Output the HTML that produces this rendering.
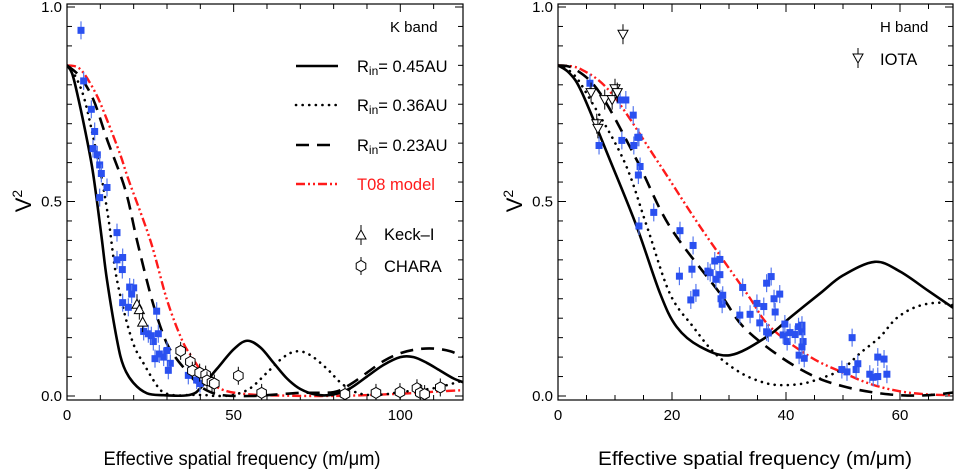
<!DOCTYPE html>
<html><head><meta charset="utf-8"><style>
html,body{margin:0;padding:0;background:#fff;}
svg{display:block;font-family:"Liberation Sans",Arial,sans-serif;}
</style></head><body>
<svg id="fig" width="955" height="471" viewBox="0 0 955 471" xmlns="http://www.w3.org/2000/svg"></svg>
<script>
// ---------- K band data ----------
const kSolidX=[0,1.5,3,5.5,7.5,9,10.5,12,15,17,20,24,29,35,38,40,45,50,54,58,62,66,70,75,80,85,90,95,100,104,108,112,116,119];
const kSolidY=[0.85,0.83,0.78,0.68,0.59,0.5,0.4,0.298,0.144,0.076,0.033,0.007,0.002,0.001,0.006,0.02,0.07,0.12,0.142,0.125,0.085,0.045,0.018,0.003,0.004,0.02,0.05,0.08,0.1,0.1,0.085,0.065,0.045,0.035];
const kDotX=[0,2,5,8,10.5,12.5,15,19.5,23.5,26.5,28.5,32,38,42,45,50,55,60,65,69,73,78,82,86,90,95,100,110,119];
const kDotY=[0.85,0.83,0.77,0.66,0.555,0.452,0.298,0.144,0.076,0.033,0.012,0.002,0.003,0.002,0,0.003,0.02,0.06,0.1,0.115,0.105,0.07,0.035,0.012,0.003,0.004,0.01,0.02,0.04];
const kDashX=[0,4,8,12,17.5,21,25.5,29.5,32.5,36.5,40,44,48,55,60,70,80,85,90,95,100,105,110,115,119];
const kDashY=[0.85,0.82,0.76,0.66,0.53,0.4,0.247,0.144,0.1,0.058,0.025,0.007,0.001,0,0.002,0.008,0.01,0.03,0.06,0.09,0.11,0.12,0.122,0.115,0.1];
const kRedX=[0,4,8.5,12,16,18.5,25,30,34.5,37.5,42,47,55,65,75,85,95,105,112,119];
const kRedY=[0.85,0.84,0.78,0.71,0.62,0.555,0.4,0.247,0.144,0.1,0.045,0.015,0.004,0.001,0,0.001,0.004,0.008,0.012,0.015];
const kBlueX=[4.2,5.0,7.3,8.3,7.8,9.1,9.8,10.3,9.8,12,15,15,16.7,16.6,18.8,20,16.7,19.4,18.4,24.4,25.9,27.4,26.9,26.4,29,31,30.4,30,36.4,38.9,39.9,23,25.3,27.7];
const kBlueY=[0.94,0.81,0.737,0.68,0.636,0.62,0.594,0.572,0.51,0.536,0.42,0.35,0.356,0.325,0.28,0.278,0.24,0.262,0.228,0.16,0.14,0.16,0.218,0.096,0.1,0.084,0.066,0.117,0.053,0.041,0.032,0.166,0.155,0.108];
const kKeckX=[21,21.7,22.7];
const kKeckY=[0.236,0.222,0.19];
const kCharaX=[34.1,37,37.6,39.8,41.6,42,43.5,44.2,51.4,58.4,83.4,92.7,99.9,105,106,107.3,112];
const kCharaY=[0.116,0.088,0.065,0.06,0.055,0.04,0.035,0.032,0.052,0.008,0.005,0.008,0.01,0.02,0.008,0.005,0.022];
// ---------- H band data ----------
const hSolidX=[0,2,4.2,9.1,13.8,17.9,20.8,24.9,30.2,36.6,41,46,50,55.6,60,65,70];
const hSolidY=[0.85,0.83,0.78,0.607,0.436,0.264,0.178,0.127,0.105,0.152,0.205,0.264,0.31,0.345,0.32,0.27,0.22];
const hDotX=[0,2.5,5,11.5,15.6,19.6,23.7,27.5,32,36,39,43,47,50,53,56.5,59.4,63,67,70];
const hDotY=[0.85,0.83,0.778,0.607,0.436,0.264,0.178,0.11,0.06,0.035,0.028,0.032,0.05,0.07,0.11,0.152,0.2,0.23,0.24,0.23];
const hDashX=[0,3,7.4,13.8,19.6,28.4,32.5,39,45,50,55,60,65,70];
const hDashY=[0.85,0.84,0.778,0.607,0.436,0.264,0.178,0.101,0.05,0.025,0.01,0.002,0.002,0.01];
const hRedX=[0,4,9.4,17.3,24.9,33.1,37.2,44.2,50,55,60,65,70];
const hRedY=[0.85,0.84,0.778,0.607,0.436,0.264,0.178,0.101,0.06,0.03,0.012,0.004,0.002];
const hBlueX=[5.6,7.2,10.9,11.9,13.2,11.2,13.3,14,14.2,14.4,14.1,14.2,16.8,21.4,21.3,23.7,23.5,23.3,24.2,26.3,26.7,27.5,28.4,27.7,28.4,28.6,28.8,28.9,31.9,32.4,33.7,34.9,35.4,36.1,36.6,37.4,36.6,36.9,37.9,38.1,38.9,39.5,39.8,40.2,40.7,41.6,42.2,42.8,42.8,43,42.3,43.2,42.8,49.8,50.7,51.6,52.3,52.6,54.7,55.3,56.1,56.1,57.2,57.7];
const hBlueY=[0.804,0.644,0.761,0.761,0.722,0.657,0.644,0.665,0.665,0.59,0.568,0.437,0.472,0.425,0.308,0.387,0.326,0.247,0.265,0.321,0.317,0.347,0.351,0.3,0.312,0.25,0.236,0.259,0.208,0.279,0.21,0.238,0.188,0.23,0.29,0.307,0.165,0.162,0.25,0.216,0.262,0.157,0.185,0.14,0.163,0.158,0.178,0.182,0.165,0.14,0.105,0.097,0.126,0.068,0.062,0.15,0.068,0.083,0.056,0.048,0.05,0.1,0.095,0.056];
const hIotaX=[11.4,5.8,6.8,7.0,8.2,9.5,10,10.4];
const hIotaY=[0.93,0.78,0.7,0.688,0.762,0.762,0.79,0.78];

const NS="http://www.w3.org/2000/svg";
const svg=document.getElementById('fig');
function mk(tag,attrs,parent){const e=document.createElementNS(NS,tag);for(const k in attrs)e.setAttribute(k,attrs[k]);(parent||svg).appendChild(e);return e;}

function panel(cfg){
  const g=mk('g',{});
  
  
  const L=cfg.left,R=cfg.right,T=4,B=400;
  const sx=v=>cfg.x0px+v*cfg.pxPerUnit;
  const sy=v=>396-v*389;
  const cid='clip-'+cfg.name;
  const cp=mk('clipPath',{id:cid},g);mk('rect',{x:L,y:T,width:R-L,height:B-T},cp);
  const tk=mk('g',{stroke:'#000','stroke-width':1},g);
  
  
  for(let i=0;i<=20;i++){const v=i*0.05,y=sy(v),len=(i%10==0)?8:5;
    mk('line',{x1:L,y1:y,x2:L+len,y2:y},tk);mk('line',{x1:R,y1:y,x2:R-len,y2:y},tk);}
  for(let v=0;v<=cfg.xmax+0.01;v+=cfg.minor){const x=sx(v);if(x>R+0.5)break;const maj=Math.abs(v/cfg.major-Math.round(v/cfg.major))<1e-6;const len=maj?8:5;
    mk('line',{x1:x,y1:B,x2:x,y2:B-len},tk);mk('line',{x1:x,y1:T,x2:x,y2:T+len},tk);}
  mk('rect',{x:L,y:T,width:R-L,height:B-T,fill:'none',stroke:'#000','stroke-width':1.2},g);
  ['0.0','0.5','1.0'].forEach((s,i)=>{const t=mk('text',{x:L-5,y:sy(i*0.5)+5,'text-anchor':'end','font-size':15},g);t.textContent=s;
    });
  cfg.xticks.forEach(v=>{const t=mk('text',{x:sx(v),y:420,'text-anchor':'middle','font-size':15},g);t.textContent=String(v);
    });
  const yl=mk('text',{x:0,y:0,transform:`translate(${L-36},201) rotate(-90)`,'text-anchor':'middle','font-size':22},g);
  yl.innerHTML='V<tspan dy="-9" font-size="14">2</tspan>';
  
  const xl=mk('text',{x:cfg.titleX,y:465,'text-anchor':'middle','font-size':19,textLength:cfg.titleW,lengthAdjust:'spacingAndGlyphs'},g);
  xl.textContent=cfg.title;

  const plot=mk('g',{'clip-path':`url(#${cid})`},g);
  function curve(xs,ys,style,name){
    const p=xs.map((x,i)=>[sx(x),sy(ys[i])]);
    let d=`M${p[0][0]},${p[0][1]}`;
    for(let i=0;i<p.length-1;i++){const p0=p[i-1]||p[i],p1=p[i],p2=p[i+1],p3=p[i+2]||p2;
      d+=` C${p1[0]+(p2[0]-p0[0])/6},${p1[1]+(p2[1]-p0[1])/6} ${p2[0]-(p3[0]-p1[0])/6},${p2[1]-(p3[1]-p1[1])/6} ${p2[0]},${p2[1]}`;}
    const e=mk('path',Object.assign({d:d,fill:'none'},style),plot);
    
  }
  function blue(xs,ys,name){xs.forEach((x,i)=>{const X=sx(x),Y=sy(ys[i]);
    const e=mk('line',{x1:X,y1:Y-9,x2:X,y2:Y+9,stroke:'#5577ee','stroke-width':1.2},plot);
    
    const r=mk('rect',{x:X-3.5,y:Y-3.5,width:7,height:7,fill:'#2a50f0'},plot);
    });}
  cfg.draw({curve,blue,sx,sy,plot,g});
  return {sx,sy,g,plot};
}
const solid={stroke:'#000','stroke-width':2.6};
const dot={stroke:'#000','stroke-width':2.6,'stroke-dasharray':'0.1 6.5','stroke-linecap':'round'};
const dash={stroke:'#000','stroke-width':2.6,'stroke-dasharray':'13 8'};
const red={stroke:'#ff1a1a','stroke-width':2.4,'stroke-dasharray':'9 3 2 3 2 3'};
function hexagon(parent,X,Y,name){
  const l=mk('line',{x1:X,y1:Y-9,x2:X,y2:Y+9,stroke:'#000','stroke-width':1},parent);
  
  let pts=[];for(let k=0;k<6;k++){const a=Math.PI/6+k*Math.PI/3;pts.push((X+5.5*Math.cos(a)).toFixed(1)+','+(Y+5.5*Math.sin(a)).toFixed(1));}
  const h=mk('polygon',{points:pts.join(' '),fill:'#fff',stroke:'#000','stroke-width':1},parent);
  
}
function tri(parent,X,Y,down,name){
  const l=mk('line',{x1:X,y1:Y-10,x2:X,y2:Y+10,stroke:'#000','stroke-width':1},parent);
  
  const s=down?1:-1;
  const p=mk('polygon',{points:`${X-5},${Y-s*4} ${X+5},${Y-s*4} ${X},${Y+s*5}`,fill:'#fff',stroke:'#000','stroke-width':1},parent);
  
}

panel({name:'k-band-panel',left:67,right:463,x0px:67,pxPerUnit:3.333,xmax:120,minor:10,major:50,xticks:[0,50,100],
  title:'Effective spatial frequency  (m/\u03bcm)',titleX:242,titleW:277,
  draw:({curve,blue,sx,sy,plot,g})=>{
    curve(kRedX,kRedY,red,'t08-model-curve');
    curve(kDashX,kDashY,dash,'rin-023-curve');
    curve(kDotX,kDotY,dot,'rin-036-curve');
    curve(kSolidX,kSolidY,solid,'rin-045-curve');
    blue(kBlueX,kBlueY,'k-band-data');
    kKeckX.forEach((x,i)=>tri(plot,sx(x),sy(kKeckY[i]),false,'keck-point'));
    kCharaX.forEach((x,i)=>hexagon(plot,sx(x),sy(kCharaY[i]),'chara-point'));
    const lg=mk('g',{},g);
    const t0=mk('text',{x:390,y:32,'font-size':15},lg);t0.textContent='K band';
    [[solid,'0.45AU',66],[dot,'0.36AU',105],[dash,'0.23AU',145]].forEach(([st,lab,y])=>{
      const ln=mk('line',Object.assign({x1:296,y1:y,x2:338,y2:y},st),lg);
      
      const t=mk('text',{x:357,y:y+6,'font-size':16.5},lg);
      t.innerHTML=`R<tspan font-size="12" dy="3">in</tspan><tspan dy="-3">= ${lab}</tspan>`;
      });
    mk('line',Object.assign({x1:296,y1:184,x2:338,y2:184},red),lg);
    const tr=mk('text',{x:357,y:190,'font-size':16.5,fill:'#ff1a1a'},lg);tr.textContent='T08 model';
    tri(lg,361,235,false,'legend-keck-symbol');
    const tk=mk('text',{x:384,y:240,'font-size':16.5},lg);tk.textContent='Keck\u2013I';
    hexagon(lg,361,266,'legend-chara-symbol');
    const tc=mk('text',{x:384,y:272,'font-size':16.5},lg);tc.textContent='CHARA';
  }});

panel({name:'h-band-panel',left:558,right:953,x0px:558,pxPerUnit:5.7,xmax:70,minor:5,major:20,xticks:[0,20,40,60],
  title:'Effective spatial frequency (m/\u03bcm)',titleX:755,titleW:314,
  draw:({curve,blue,sx,sy,plot,g})=>{
    curve(hRedX,hRedY,red,'t08-model-curve');
    curve(hDashX,hDashY,dash,'rin-023-curve');
    curve(hDotX,hDotY,dot,'rin-036-curve');
    curve(hSolidX,hSolidY,solid,'rin-045-curve');
    blue(hBlueX,hBlueY,'h-band-data');
    hIotaX.forEach((x,i)=>tri(plot,sx(x),sy(hIotaY[i]),true,'iota-point'));
    const lg=mk('g',{},g);
    const t0=mk('text',{x:880,y:32,'font-size':15},lg);t0.textContent='H band';
    tri(lg,858,58,true,'legend-iota-symbol');
    const ti=mk('text',{x:880,y:65,'font-size':16.5},lg);ti.textContent='IOTA';
  }});
</script>
</body></html>
